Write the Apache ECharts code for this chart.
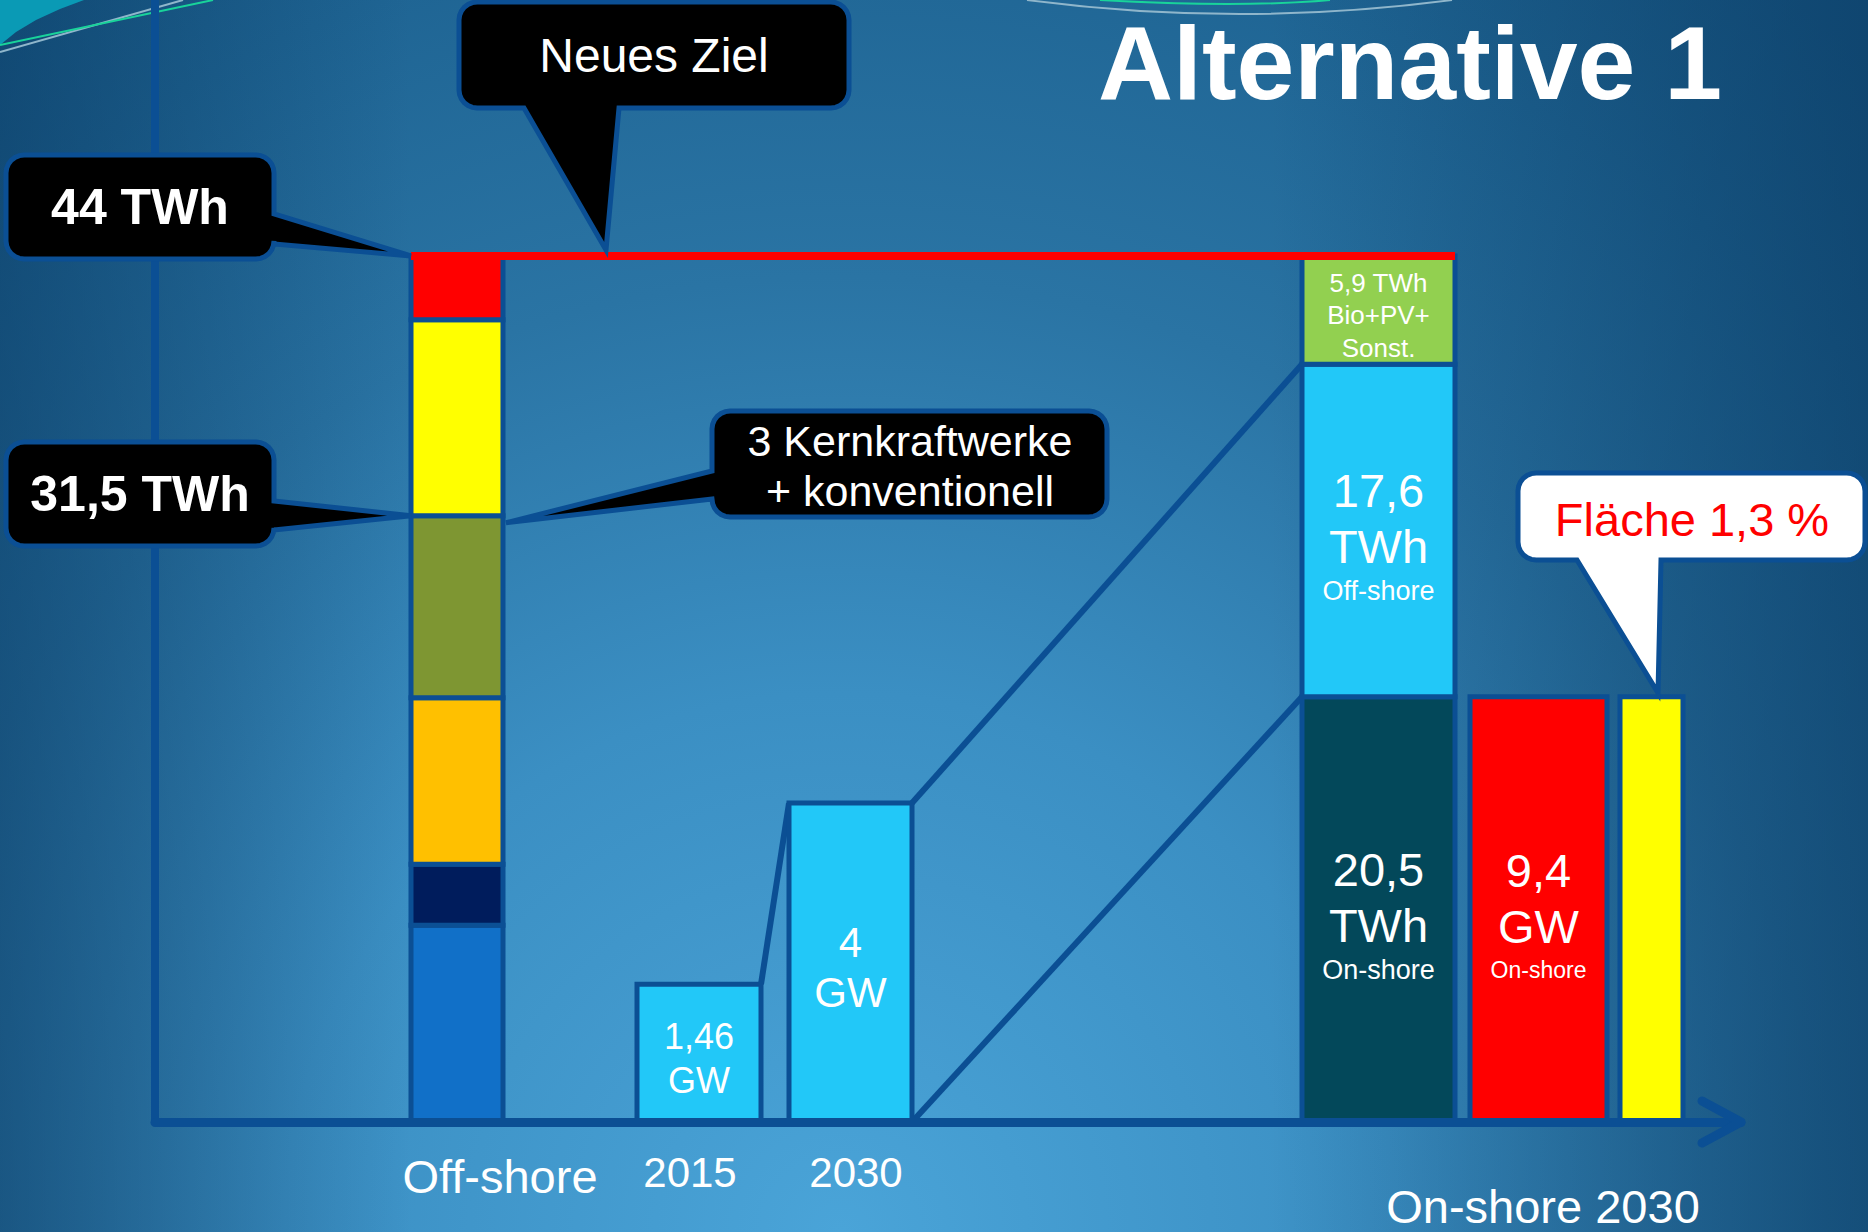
<!DOCTYPE html>
<html>
<head>
<meta charset="utf-8">
<title>Alternative 1</title>
<script src="https://cdn.jsdelivr.net/npm/echarts@6/dist/echarts.min.js"></script>
<style>
html, body { margin: 0; padding: 0; }
#main {
    width: 1868px;
    height: 1232px;
    background:
        linear-gradient(to right, rgba(8, 55, 95, 0.55) 0%, rgba(8, 55, 95, 0) 22%, rgba(8, 55, 95, 0) 68%, rgba(8, 55, 95, 0.6) 100%),
        radial-gradient(ellipse 85% 125% at 45% 100%, #4aa4d8 0%, #3b8fc3 35%, #2a74a4 62%, #1f6594 85%, #1a5c8a 100%);
}
</style>
</head>
<body>
<div id="main"></div>
<script>
// Strommix heute, 44 TWh (Segmente von unten nach oben, Hoehen aus dem Bild)
var mixValues = [10.0, 3.1, 8.45, 9.25, 9.95, 3.25];
var mixTop = '44 TWh';
var mixMark = '31,5 TWh';

// Off-shore Leistung
var offYears = ['2015', '2030'];
var offHeights = [7.0, 16.2];
var offGW = ['1,46', '4'];

// 2030: On-shore, Off-shore, Bio+PV+Sonst.
var mix2030Heights = [21.6, 16.9, 5.5];
var mix2030TWh = ['20,5', '17,6', '5,9'];
var onshoreHeight = 21.6;
var onshoreGW = '9,4';
var flaecheHeight = 21.6;
var flaecheText = 'Fläche 1,3 %';

var axisLabels = ['Off-shore', '2015', '2030', 'On-shore 2030'];

// Layout (Achseneinheiten = Pixel ab y-Achse)
var X_MAX = 1586, Y_MAX = 57;
var slot = {
    mix: [256, 348], y2015: [482, 606], y2030: [634, 757],
    big: [1147, 1300], red: [1315, 1452], yellow: [1465, 1528]
};
var FONT = 'Liberation Sans, Arial, sans-serif';
var EDGE = '#0b4f94';
var mixColors = ['#1170c8', '#001c5c', '#ffc000', '#7e9632', '#ffff00', '#ff0000'];

// alle Rechtecke sammeln
var rects = [];
var acc = 0;
for (var i = 0; i < mixValues.length; i++) {
    rects.push({ x: slot.mix, y0: acc, y1: acc + mixValues[i], color: mixColors[i] });
    acc += mixValues[i];
}
var mixSum = acc;
var mixMarkY = mixValues[0] + mixValues[1] + mixValues[2] + mixValues[3];

rects.push({ x: slot.y2015, y0: 0, y1: offHeights[0], color: '#22c8f8',
    label: '{m|' + offGW[0] + '}\n{m|GW}' });
rects.push({ x: slot.y2030, y0: 0, y1: offHeights[1], color: '#22c8f8',
    label: '{l|' + offGW[1] + '}\n{l|GW}' });

var h0 = mix2030Heights[0], h1 = h0 + mix2030Heights[1], h2 = h1 + mix2030Heights[2];
rects.push({ x: slot.big, y0: 0, y1: h0, color: '#03485a',
    label: '{b|' + mix2030TWh[0] + '}\n{b|TWh}\n{s|On-shore}' });
rects.push({ x: slot.big, y0: h0, y1: h1, color: '#22c8f8',
    label: '{b|' + mix2030TWh[1] + '}\n{b|TWh}\n{s|Off-shore}' });
rects.push({ x: slot.big, y0: h1, y1: h2, color: '#92d050',
    label: '{g|' + mix2030TWh[2] + ' TWh}\n{g|Bio+PV+}\n{g|Sonst.}' });
rects.push({ x: slot.red, y0: 0, y1: onshoreHeight, color: '#ff0000',
    label: '{b|' + onshoreGW + '}\n{b|GW}\n{t|On-shore}' });
rects.push({ x: slot.yellow, y0: 0, y1: flaecheHeight, color: '#ffff00' });

var rich = {
    b: { fontSize: 47, lineHeight: 56, fill: '#fff', fontFamily: FONT },
    s: { fontSize: 27, lineHeight: 34, fill: '#fff', fontFamily: FONT },
    t: { fontSize: 23, lineHeight: 32, fill: '#fff', fontFamily: FONT },
    g: { fontSize: 26, lineHeight: 32.5, fill: '#fff', fontFamily: FONT },
    m: { fontSize: 36, lineHeight: 44, fill: '#fff', fontFamily: FONT },
    l: { fontSize: 42, lineHeight: 50, fill: '#fff', fontFamily: FONT }
};

function renderBar(params, api) {
    var r = rects[params.dataIndex];
    var p0 = api.coord([r.x[0], r.y1]);
    var p1 = api.coord([r.x[1], r.y0]);
    var box = {
        type: 'rect',
        shape: { x: p0[0], y: p0[1], width: p1[0] - p0[0], height: p1[1] - p0[1] },
        style: { fill: r.color, stroke: EDGE, lineWidth: 5 }
    };
    if (!r.label) return box;
    return {
        type: 'group',
        children: [box, {
            type: 'text',
            style: {
                text: r.label, rich: rich, fill: '#fff', fontFamily: FONT,
                x: (p0[0] + p1[0]) / 2, y: (p0[1] + p1[1]) / 2 + 5,
                align: 'center', verticalAlign: 'middle'
            }
        }]
    };
}

var connectors = [
    [[slot.y2015[1], offHeights[0]], [slot.y2030[0], offHeights[1]]],
    [[slot.y2030[1], offHeights[1]], [slot.big[0], h1]],
    [[slot.y2030[1], 0], [slot.big[0], h0]]
];

var chart = echarts.init(document.getElementById('main'), null, { renderer: 'svg' });
chart.setOption({
    animation: false,
    textStyle: { fontFamily: FONT },
    grid: { left: 155, right: 127, top: 0, bottom: 110 },
    xAxis: {
        type: 'value', min: 0, max: X_MAX, z: 10,
        axisLine: { show: true, onZero: false, lineStyle: { color: EDGE, width: 9 } },
        axisTick: { show: false }, axisLabel: { show: false }, splitLine: { show: false }
    },
    yAxis: {
        type: 'value', min: 0, max: Y_MAX, z: 10,
        axisLine: { show: true, onZero: false, lineStyle: { color: EDGE, width: 8 } },
        axisTick: { show: false }, axisLabel: { show: false }, splitLine: { show: false }
    },
    series: [
        {
            type: 'lines', coordinateSystem: 'cartesian2d', z: 1,
            data: connectors.map(function (c) { return { coords: c }; }),
            lineStyle: { color: EDGE, width: 6, opacity: 1 }
        },
        {
            type: 'custom', z: 2,
            renderItem: renderBar,
            data: rects.map(function (r, i) { return [r.x[0], r.y0, r.x[1], r.y1, i]; })
        },
        {
            type: 'lines', coordinateSystem: 'cartesian2d', z: 3,
            data: [{ coords: [[slot.mix[0], mixSum], [slot.big[1], mixSum]] }],
            lineStyle: { color: '#ff0000', width: 8, opacity: 1 }
        }
    ]
});

function px(v) { return chart.convertToPixel({ gridIndex: 0 }, v); }

// Viertelkreis als Punkte
function arc(cx, cy, r, a0, a1) {
    var pts = [];
    for (var k = 0; k <= 6; k++) {
        var a = a0 + (a1 - a0) * k / 6;
        pts.push([cx + r * Math.cos(a), cy + r * Math.sin(a)]);
    }
    return pts;
}
// Sprechblase: Rechteck mit runden Ecken und Spitze
function bubble(x, y, w, h, r, side, p1, p2, tip, fill) {
    var R = x + w, B = y + h, P = Math.PI;
    var pts = arc(R - r, y + r, r, -P / 2, 0);
    if (side === 'right') pts.push([R, p1], tip, [R, p2]);
    pts = pts.concat(arc(R - r, B - r, r, 0, P / 2));
    if (side === 'bottom') pts.push([p2, B], tip, [p1, B]);
    pts = pts.concat(arc(x + r, B - r, r, P / 2, P));
    if (side === 'left') pts.push([x, p2], tip, [x, p1]);
    pts = pts.concat(arc(x + r, y + r, r, P, P * 1.5));
    return { type: 'polygon', z: 20, shape: { points: pts }, style: { fill: fill, stroke: EDGE, lineWidth: 5 } };
}
function txt(s, x, y, size, opts) {
    opts = opts || {};
    return {
        type: 'text', z: 21, x: x, y: y,
        style: {
            text: s, fill: opts.fill || '#fff', fontSize: size, fontFamily: FONT,
            fontWeight: opts.bold ? 'bold' : 'normal', align: 'center', verticalAlign: 'middle',
            lineHeight: opts.lh || size
        }
    };
}

var tipTop = px([slot.mix[0], mixSum]);
var tipMark = px([slot.mix[0], mixMarkY]);
var tipKern = px([slot.mix[1], mixMarkY]);
var tipZiel = px([451, mixSum]);
var tipFl = px([slot.yellow[1] - 25, flaecheHeight]);
var axEnd = px([X_MAX, 0]);

chart.setOption({
    graphic: [
        // Deko oben links / oben
        { type: 'polygon', shape: { points: [[0, 0], [84, 0], [60, 9], [36, 20], [16, 32], [0, 45]] }, style: { fill: '#0a9ab5' } },
        { type: 'line', shape: { x1: 0, y1: 52, x2: 183, y2: 0 }, style: { stroke: '#8fb6cb', lineWidth: 2 } },
        { type: 'line', shape: { x1: 0, y1: 45, x2: 213, y2: 0 }, style: { stroke: '#19d39a', lineWidth: 2 } },
        { type: 'bezierCurve', shape: { x1: 1027, y1: 0, cpx1: 1240, cpy1: 28, x2: 1452, y2: 0 }, style: { stroke: '#8fb6cb', lineWidth: 2, fill: null } },
        { type: 'bezierCurve', shape: { x1: 1100, y1: 0, cpx1: 1240, cpy1: 8, x2: 1330, y2: 0 }, style: { stroke: '#19d39a', lineWidth: 2, fill: null } },

        // Pfeil der x-Achse
        { type: 'polyline', z: 15, shape: { points: [[axEnd[0] - 39, axEnd[1] - 21], axEnd, [axEnd[0] - 39, axEnd[1] + 21]] },
          style: { stroke: EDGE, lineWidth: 9, fill: null, lineCap: 'round', lineJoin: 'round' } },

        // Titel
        txt('Alternative 1', 1410, 63, 104, { bold: true }),

        // Sprechblasen
        bubble(6, 155, 268, 104, 18, 'right', 214, 244, tipTop, '#000'),
        txt(mixTop, 140, 207, 50, { bold: true }),
        bubble(6, 442, 268, 104, 18, 'right', 501, 530, tipMark, '#000'),
        txt(mixMark, 140, 494, 50, { bold: true }),
        bubble(459, 2, 390, 106, 18, 'bottom', 524, 619, [tipZiel[0], tipZiel[1] - 6], '#000'),
        txt('Neues Ziel', 654, 55, 48),
        bubble(712, 411, 395, 106, 18, 'left', 471, 499, [tipKern[0] + 3, tipKern[1] + 7], '#000'),
        txt('3 Kernkraftwerke\n+ konventionell', 910, 466, 43, { lh: 50 }),
        bubble(1518, 473, 347, 87, 18, 'bottom', 1577, 1661, [tipFl[0], tipFl[1] - 4], '#fff'),
        txt(flaecheText, 1692, 519, 47, { fill: '#ff0000' }),

        // Achsenbeschriftung
        txt(axisLabels[0], 500, 1176, 47),
        txt(axisLabels[1], 690, 1172, 42),
        txt(axisLabels[2], 856, 1172, 42),
        txt(axisLabels[3], 1543, 1206, 47)
    ]
});
</script>
</body>
</html>
